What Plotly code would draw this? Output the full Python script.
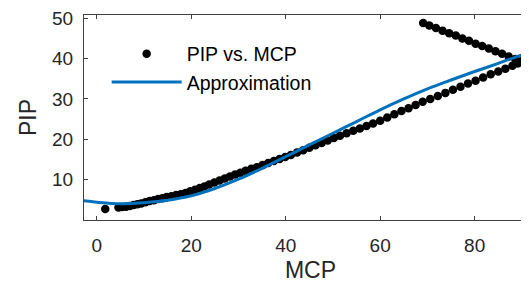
import plotly.graph_objects as go

# Measured data: PIP vs. MCP (lower branch then return branch)
mcp = [1.8, 4.6, 5.4, 6.2, 7.0, 7.8, 8.6, 9.4, 10.3, 11.2, 12.1, 13.0, 13.9, 14.8, 15.8,
       16.8, 17.8, 18.8, 19.8, 20.8, 21.8, 22.8, 23.8, 24.9, 26.0, 27.1, 28.2, 29.3, 30.4,
       31.5, 32.7, 33.9, 35.1, 36.3, 37.5, 38.7, 39.9, 41.1, 42.4, 43.7, 45.0, 46.3, 47.6,
       48.9, 50.2, 51.5, 52.9, 54.3, 55.7, 57.1, 58.5, 60.0, 61.5, 63.0, 64.5, 66.0, 67.5,
       69.0, 70.6, 72.2, 73.8, 75.4, 77.0, 78.6, 80.2, 81.8, 83.4, 85.0, 86.5, 88.0, 89.2,
       90.0,
       88.6, 87.2, 85.8, 84.4, 83.0, 81.6, 80.2, 78.8, 77.4, 76.0, 74.6, 73.2, 71.8, 70.4, 69.1]
pip = [2.7, 3.1, 3.2, 3.3, 3.5, 3.7, 3.9, 4.1, 4.4, 4.7, 4.9, 5.2, 5.4, 5.7, 5.9,
       6.2, 6.4, 6.7, 7.1, 7.5, 7.9, 8.3, 8.8, 9.3, 9.8, 10.3, 10.8, 11.3, 11.7,
       12.2, 12.7, 13.1, 13.6, 14.1, 14.6, 15.1, 15.6, 16.1, 16.7, 17.3, 17.9, 18.5, 19.1,
       19.7, 20.3, 20.9, 21.5, 22.1, 22.7, 23.3, 23.9, 24.6, 25.4, 26.2, 27.0, 27.7, 28.5,
       29.3, 30.0, 30.7, 31.5, 32.3, 33.0, 33.8, 34.5, 35.3, 36.1, 36.8, 37.5, 38.2, 38.8,
       39.4,
       39.9, 40.5, 41.2, 41.8, 42.5, 43.1, 43.7, 44.4, 45.0, 45.7, 46.3, 46.9, 47.6, 48.2, 48.8]

# Approximation curve
approx_x = [-3, 0, 5, 10, 15, 20, 25, 30, 35, 40, 45, 50, 55, 60, 65, 70, 75, 80, 85, 90, 94]
approx_y = [4.8, 4.4, 4.0, 4.3, 4.9, 6.0, 7.8, 10.1, 12.8, 15.7, 18.6, 21.5, 24.4, 27.3,
            30.0, 32.5, 34.7, 36.8, 38.8, 40.9, 42.2]

x_ticks = [0, 20, 40, 60, 80]
y_ticks = [10, 20, 30, 40, 50]

FONT = "Liberation Sans, Arial, sans-serif"
TXT = "#262626"

fig = go.Figure()
fig.add_trace(go.Scatter(
    x=mcp, y=pip, mode="markers", name="PIP vs. MCP",
    marker=dict(color="black", size=8.5, line=dict(width=0)),
))
fig.add_trace(go.Scatter(
    x=approx_x, y=approx_y, mode="lines", name="Approximation",
    line=dict(color="#0072BD", width=3, shape="spline"),
))

# the page body adds an 8px offset, so margins are set 8px smaller on the left/top
fig.update_layout(
    width=529, height=281,
    margin=dict(l=76, r=0, t=7, b=69, autoexpand=False),
    paper_bgcolor="white", plot_bgcolor="white",
    font=dict(family=FONT, size=19, color=TXT),
    showlegend=True,
    legend=dict(x=0.05, y=0.905, xanchor="left", yanchor="top",
                bgcolor="rgba(0,0,0,0)", font=dict(size=19.5, color="black"),
                itemwidth=70),
)
fig.update_xaxes(
    range=[-2.7, 93.2], tickvals=x_ticks, ticks="inside", ticklen=4,
    tickcolor="#404040", showline=True, linecolor="#404040", linewidth=1,
    mirror="ticks", showgrid=False, zeroline=False, automargin=False,
    ticklabelstandoff=8, ticklabeloverflow="allow",
    title=dict(text="MCP", standoff=7),
)
fig.update_yaxes(
    range=[0, 50.8], tickvals=y_ticks, ticks="inside", ticklen=4,
    tickcolor="#404040", showline=True, linecolor="#404040", linewidth=1,
    mirror=False, showgrid=False, zeroline=False, automargin=False,
    ticklabelstandoff=6, ticklabeloverflow="allow",
    title=dict(text="PIP", standoff=9),
)

fig.write_html("out.html")
